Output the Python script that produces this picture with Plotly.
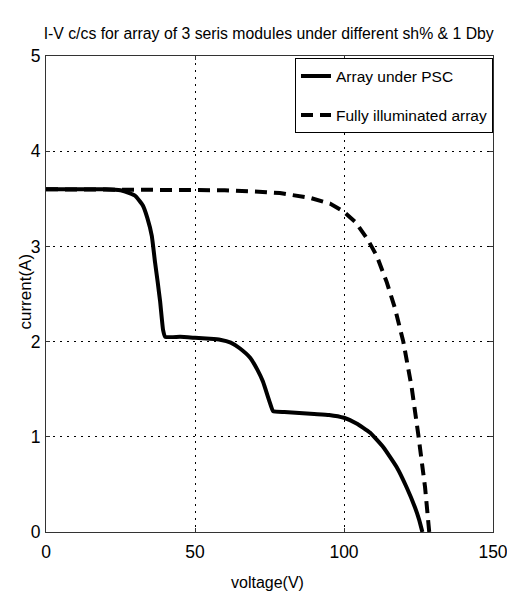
import plotly.graph_objects as go

title_text = "I-V c/cs for array of 3 seris modules under different sh% & 1 Dby"
x_label = "voltage(V)"
y_label = "current(A)"
x_ticks = [0, 50, 100, 150]
y_ticks = [0, 1, 2, 3, 4, 5]

psc_v = [0, 10, 20, 25, 28, 30, 32.5, 34, 35.5, 36.6, 37.5, 38.3, 39.3, 40, 45, 50, 55,
         58.4, 62, 65, 68.5, 71, 72.8, 75, 76.2, 80, 85, 90, 95, 100, 104.2, 108.7,
         113.2, 117.7, 121, 123.8, 125.2, 126.3]
psc_i = [3.6, 3.6, 3.6, 3.59, 3.56, 3.53, 3.43, 3.3, 3.11, 2.83, 2.62, 2.42, 2.12, 2.05,
         2.05, 2.04, 2.03, 2.02, 1.99, 1.93, 1.83, 1.7, 1.58, 1.37, 1.27, 1.26, 1.25, 1.24,
         1.23, 1.2, 1.14, 1.045, 0.89, 0.68, 0.47, 0.26, 0.13, 0.0]

full_v = [0, 20, 40, 50, 60, 74, 78.5, 88.6, 95.3, 99.7, 104, 108, 111, 114.4, 117.1,
          119.9, 122.7, 124.9, 127.2, 128.6]
full_i = [3.6, 3.6, 3.6, 3.6, 3.59, 3.57, 3.56, 3.51, 3.45, 3.37, 3.25, 3.07, 2.9, 2.62,
          2.35, 2.0, 1.52, 1.03, 0.47, 0.0]

FONT = "Liberation Sans Narrow, Arial Narrow, Liberation Sans, Arial, sans-serif"

fig = go.Figure()
fig.add_trace(go.Scatter(x=full_v, y=full_i, mode="lines", name="Fully illuminated array",
                         line=dict(color="black", width=4, dash="12px,7px"),
                         legendgroup="b", legendrank=2))
fig.add_trace(go.Scatter(x=psc_v, y=psc_i, mode="lines", name="Array under PSC",
                         line=dict(color="black", width=4, shape="spline", smoothing=0.4),
                         legendgroup="a", legendrank=1))

axis_common = dict(showline=True, linecolor="#333333", linewidth=1, mirror="ticks",
                   ticks="inside", ticklen=4, tickcolor="#333333",
                   showgrid=True, gridcolor="black", gridwidth=1, griddash="2px,5px",
                   zeroline=False, automargin=False, ticklabeloverflow="allow",
                   tickfont=dict(family=FONT, size=17.5, color="black"))

fig.update_xaxes(range=[0, 150], tickvals=x_ticks, ticklabelstandoff=4, **axis_common)
fig.update_yaxes(range=[0, 5], tickvals=y_ticks, ticklabelstandoff=1, **axis_common)

H = 597
fig.update_layout(
    width=507, height=H,
    margin=dict(l=46, r=14, t=56, b=65, autoexpand=False),
    paper_bgcolor="white", plot_bgcolor="white",
    title=dict(text=title_text, x=0.53, xanchor="center", y=1 - 33 / H, yanchor="middle",
               font=dict(family=FONT, size=15.8, color="black")),
    showlegend=True,
    legend=dict(x=0.557, y=0.995, xanchor="left", yanchor="top", bgcolor="white",
                bordercolor="black", borderwidth=1, traceorder="grouped",
                tracegroupgap=16, font=dict(family=FONT, size=15.5, color="black")),
    annotations=[
        dict(text=x_label, xref="paper", yref="paper", x=0.495, y=-0.107,
             xanchor="center", yanchor="middle", showarrow=False,
             font=dict(family=FONT, size=16, color="black")),
        dict(text=y_label, xref="paper", yref="paper", x=-0.045, y=0.505,
             xanchor="center", yanchor="middle", textangle=-90, showarrow=False,
             font=dict(family=FONT, size=17, color="black")),
    ],
)

fig.write_html(
    "out.html",
    config={"displayModeBar": False},
    post_script="document.body.style.margin='0';document.body.style.overflow='hidden';",
)
